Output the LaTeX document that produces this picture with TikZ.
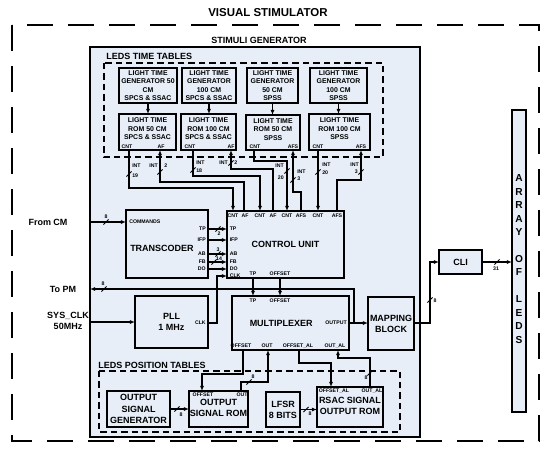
\documentclass[tikz,border=0pt]{standalone}
\usepackage{fontspec}
\setmainfont{Liberation Sans}
\usetikzlibrary{arrows.meta,calc}
\definecolor{lb}{RGB}{231,238,248}
\newcommand\bx[7][]{\node[box,#1,minimum width={(#4-#2)*0.75pt},minimum height={(#5-#3)*0.75pt}] (#6) at ({(#2+#4)/2},{(#3+#5)/2}) {#7};}
\begin{document}
\begin{tikzpicture}[x=0.75pt,y=-0.75pt,
  box/.style={draw=black,line width=1pt,fill=lb,inner sep=0pt,outer sep=0pt,align=center,font=\fontsize{6.75}{8.4}\selectfont\bfseries},
  gbox/.style={box,font=\fontsize{5.2}{6.4}\selectfont\bfseries},
  gtext/.style={align=center,inner sep=0pt,font=\fontsize{5.2}{6.4}\selectfont\bfseries},
  pin/.style={font=\fontsize{3.9}{4.5}\selectfont\bfseries,inner sep=0pt},
  lbl/.style={font=\fontsize{6.75}{8.8}\selectfont\bfseries,align=center,inner sep=0pt},
  wire/.style={line width=0.95pt},
  arr/.style={wire,-{Latex[length=3.8pt,width=3pt]}},
  outerdash/.style={line width=1.6pt,dash pattern=on 19.5pt off 11.25pt},
  indash/.style={line width=0.85pt,dash pattern=on 4.8pt off 3pt},
  bus/.pic={\draw[line width=0.7pt] (-2.6,2.6)--(2.6,-2.6);},
]
\useasboundingbox (0,0) rectangle (550,450);
\fill[white] (0,0) rectangle (550,450);

% outer
\node[font=\fontsize{8.6}{10}\selectfont\bfseries] (title) at (268,13) {VISUAL STIMULATOR};
\draw[outerdash] (12,25) rectangle (539,441);

% stimuli generator
\node[lbl] (sgt) at (259,40) {STIMULI GENERATOR};
\bx{90}{47}{420}{437}{sg}{}

% LEDS time tables
\node[lbl,anchor=west] (ltt) at (106,56) {LEDS TIME TABLES};
\draw[indash] (104,63) rectangle (383,157);

\bx[gbox]{119}{68}{177}{103}{g1}{LIGHT TIME\\GENERATOR 50\\CM\\SPCS \& SSAC}
\bx[gbox]{182}{68}{236}{103}{g2}{LIGHT TIME\\GENERATOR\\100 CM\\SPCS \& SSAC}
\bx[gbox]{247}{68}{298}{103}{g3}{LIGHT TIME\\GENERATOR\\50 CM\\SPSS}
\bx[gbox]{310}{68}{367}{103}{g4}{LIGHT TIME\\GENERATOR\\100 CM\\SPSS}

\bx[gbox]{119}{114}{176}{150}{r1}{}
\bx[gbox]{181}{114}{236}{150}{r2}{}
\bx[gbox]{246}{115}{300}{150}{r3}{}
\bx[gbox]{309}{114}{370}{150}{r4}{}
\node[gtext] (r1t) at (147.5,129) {LIGHT TIME\\ROM 50 CM\\SPCS \& SSAC};
\node[gtext] (r2t) at (208.5,129) {LIGHT TIME\\ROM 100 CM\\SPCS \& SSAC};
\node[gtext] (r3t) at (273,129.5) {LIGHT TIME\\ROM 50 CM\\SPSS};
\node[gtext] (r4t) at (339.5,129) {LIGHT TIME\\ROM 100 CM\\SPSS};
\node[pin] (r1p1) at (127,147) {CNT}; \node[pin] (r1p2) at (161,147) {AF};
\node[pin] (r2p1) at (190,147) {CNT}; \node[pin] (r2p2) at (231,147) {AF};
\node[pin] (r3p1) at (255,147) {CNT}; \node[pin] (r3p2) at (293,147) {AFS};
\node[pin] (r4p1) at (318,147) {CNT}; \node[pin] (r4p2) at (361,147) {AFS};

\foreach \i in {1,...,4} \draw[arr] (g\i.south) -- (g\i.south |- r\i.north);

% transcoder
\bx{126}{210}{208}{278}{tr}{}
\node[lbl] (trt) at (162,248) {TRANSCODER};
\node[pin,anchor=west] (cmd) at (129,222) {COMMANDS};
\foreach \y/\t in {229/TP,240/IFP,254/AB,262/FB,269/DO}
  \node[pin,anchor=east] at (206,\y) {\t};

% control unit
\bx{227}{211}{344}{278}{cu}{CONTROL UNIT}
\foreach \x/\t in {233/CNT,245/AF,260/CNT,273/AF,287/CNT,301/AFS,318/CNT,337/AFS}
  \node[pin] at (\x,216) {\t};
\foreach \y/\t in {229/TP,240/IFP,254/AB,262/FB,269/DO,276/CLK}
  \node[pin,anchor=west] at (229.5,\y) {\t};
\node[pin] (cutp) at (253,273.5) {TP};
\node[pin] (cuof) at (280,273.5) {OFFSET};

% PLL, MUX, mapping
\bx{135}{296}{208}{348}{pll}{PLL\\1 MHz}
\node[pin,anchor=east] (pllclk) at (206,323) {CLK};
\bx{232}{296}{349}{350}{mux}{MULTIPLEXER\hspace*{14pt}}
\node[pin,anchor=east] (muxo) at (347,323) {OUTPUT};
\node[pin] at (253,300.5) {TP};
\node[pin] at (280,300.5) {OFFSET};
\node[pin] at (241,346) {OFFSET};
\node[pin] at (267,346) {OUT};
\node[pin] at (298,346) {OFFSET\_AL};
\node[pin] at (335,346) {OUT\_AL};
\bx{368}{297}{414}{350}{map}{MAPPING\\BLOCK}

% CLI and array
\bx{439}{250}{482}{274}{cli}{CLI}
\bx{512}{110}{526}{412}{leds}{}
\node[align=center,inner sep=0pt,font=\fontsize{7.6}{10.1}\selectfont\bfseries] (ledst) at (519,259)
  {A\\R\\R\\A\\Y\\[10.1pt]O\\F\\[10.1pt]L\\E\\D\\S};

% LEDS position tables
\node[lbl,anchor=west] (lpt) at (98,365) {LEDS POSITION TABLES};
\draw[indash] (99,371) rectangle (400,432);
\bx{107}{391}{170}{427}{osg}{OUTPUT\\SIGNAL\\GENERATOR}
\bx{189}{391}{248}{427}{osr}{}
\node[lbl] (osrt) at (218.5,408) {OUTPUT\\SIGNAL ROM};
\node[pin] at (203,394.5) {OFFSET};
\node[pin] at (242,394.5) {OUT};
\bx{266}{392}{300}{427}{lfsr}{LFSR\\8 BITS}
\bx{317}{387}{383}{427}{rsac}{}
\node[lbl] (rsact) at (350,406) {RSAC SIGNAL\\OUTPUT ROM};
\node[pin] at (334,391) {OFFSET\_AL};
\node[pin] at (372,391) {OUT\_AL};

% external labels
\node[lbl] (fromcm) at (48,222) {From CM};
\node[lbl] (topm) at (63,289) {To PM};
\node[lbl] (sysclk) at (68,321) {SYS\_CLK\\50MHz};

% ROM <-> CU wires
\draw[arr] (r1.south -| 129,0) |- (233,188) -- (cu.north -| 233,0);
\draw[arr] (cu.north -| 244,0) |- (160,182) -- (r1.south -| 160,0);
\draw[arr] (r2.south -| 193,0) |- (260,176) -- (cu.north -| 260,0);
\draw[arr] (cu.north -| 273,0) |- (231,169) -- (r2.south -| 231,0);
\draw[arr] (r3.south -| 254,0) |- (287,161) -- (cu.north -| 287,0);
\draw[arr] (cu.north -| 301,0) |- (293,192) -- (r3.south -| 293,0);
\draw[arr] (r4.south -| 318,0) -- (cu.north -| 318,0);
\draw[arr] (cu.north -| 337,0) |- (361,180) -- (r4.south -| 361,0);

\pic at (129,174) {bus}; \node[pin,anchor=west] at (132,166) {INT}; \node[pin,anchor=west] at (132,176) {19};
\pic at (160,172) {bus}; \node[pin,anchor=east] at (158,166) {INT}; \node[pin,anchor=west] at (164,166) {2};
\pic at (193,170) {bus}; \node[pin,anchor=west] at (196,163) {INT}; \node[pin,anchor=west] at (196,171) {18};
\pic at (231,163) {bus}; \node[pin,anchor=east] at (228,163) {INT}; \node[pin,anchor=west] at (234,163) {2};
\pic at (287,171) {bus}; \node[pin,anchor=east] at (284,166) {INT}; \node[pin,anchor=east] at (284,178) {20};
\pic at (293,180) {bus}; \node[pin,anchor=west] at (297,172) {INT}; \node[pin,anchor=west] at (297,179) {3};
\pic at (318,172) {bus}; \node[pin,anchor=west] at (322,165) {INT}; \node[pin,anchor=west] at (322,173) {20};
\pic at (361,172) {bus}; \node[pin,anchor=east] at (359,165) {INT}; \node[pin,anchor=east] at (358,172) {3};

% inputs / outputs
\draw[arr] (sg.west |- 0,222) -- (tr.west |- 0,222);
\pic at (106,222) {bus}; \node[pin] at (106,217) {8};
\coordinate (jn) at (354,323);
\draw[arr] (jn) |- (sg.west |- 0,289);
\pic at (104,289) {bus}; \node[pin] at (103,284) {8};
\draw[arr] (sg.west |- pll.west) -- (pll.west);

% transcoder -> CU
\foreach \y in {229,240,254,262,269}
  \draw[arr] (tr.east |- 0,\y) -- (cu.west |- 0,\y);
\pic at (218,229) {bus}; \node[pin] at (219,234) {2};
\pic at (218,254) {bus}; \node[pin] at (218,250) {3};
\pic at (214,262) {bus}; \node[pin] at (219,258.3) {14};

% PLL -> CU CLK
\draw[arr] (pll.east |- 0,323) -| (217,276) -- (cu.west |- 0,276);

% CU -> MUX
\draw[arr] (cu.south -| 253,0) -- (mux.north -| 253,0);
\draw[arr] (cu.south -| 280,0) -- (mux.north -| 280,0);

% MUX -> mapping -> CLI -> LEDs
\draw[arr] (mux.east |- 0,323) -- (map.west |- 0,323);
\draw[arr] (map.east |- 0,323) -| (430,262) -- (cli.west);
\pic at (430,300) {bus}; \node[pin] at (435,301) {8};
\draw[arr] (cli.east) -- (leds.west |- cli.east);
\pic at (497,262) {bus}; \node[pin] at (496,269) {31};

% MUX <-> position tables
\draw[arr] (mux.south -| 243,0) |- (202,374) -- (osr.north -| 202,0);
\draw[arr] (osr.north -| 241,0) |- (268,382) -- (mux.south -| 268,0);
\pic at (249,382) {bus}; \node[pin] at (253,377) {8};
\draw[arr] (mux.south -| 299,0) |- (331,363) -- (rsac.north -| 331,0);
\draw[arr] (rsac.north -| 370,0) |- (338,358) -- (mux.south -| 338,0);
\pic at (370,373) {bus}; \node[pin] at (366,378) {8};
\draw[arr] (osg.east) -- (osr.west |- osg.east);
\pic at (177,409) {bus}; \node[pin] at (181,415) {8};
\draw[arr] (lfsr.east) -- (rsac.west |- lfsr.east);
\pic at (306,409.5) {bus}; \node[pin] at (310,414) {8};
\end{tikzpicture}
\end{document}
